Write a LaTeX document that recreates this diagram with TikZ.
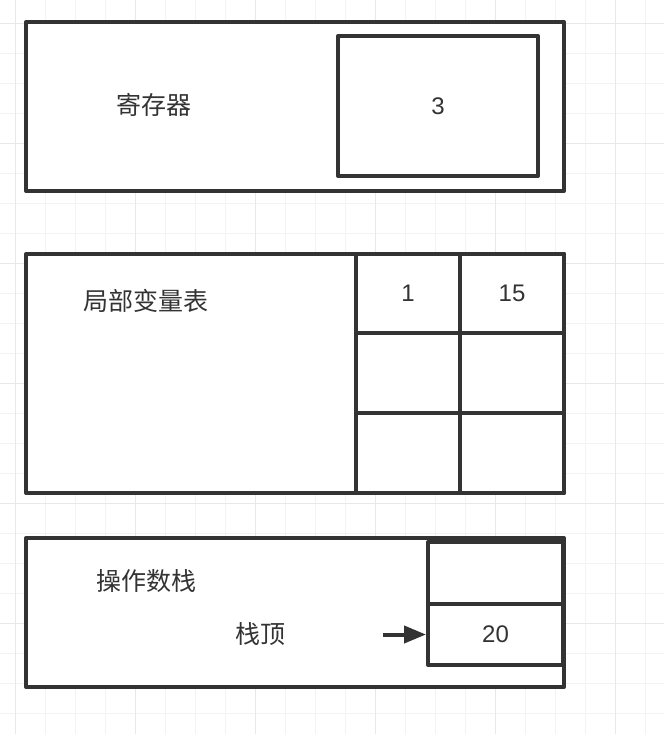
\documentclass[tikz,border=0pt]{standalone}
\usepackage{fontspec}
\setmainfont{Liberation Sans}
\newfontfamily\cjk{Noto Sans CJK SC}
\usetikzlibrary{arrows.meta}
\definecolor{ink}{HTML}{333333}
\definecolor{gridminor}{HTML}{F3F3F3}
\definecolor{gridmajor}{HTML}{E8E8E8}
\tikzset{
  box/.style={draw=ink, line width=4pt, fill=white, rectangle, inner sep=0pt, line join=round},
  lbl/.style={text=ink, font=\cjk\fontsize{25}{29}\selectfont, inner sep=0pt},
  num/.style={text=ink, font=\fontsize{24}{28}\selectfont},
  ptr/.style={draw=ink, line width=4pt, -{Triangle[length=22pt,width=17pt]}}
}
\begin{document}
\begin{tikzpicture}[x=1pt,y=-1pt]
\useasboundingbox (0,0) rectangle (664,734);
\fill[white] (0,0) rectangle (664,734);
% grid
\foreach \gx in {15,45,...,664} \draw[gridminor, line width=1pt] (\gx,0) -- (\gx,734);
\foreach \gy in {23,53,...,734} \draw[gridminor, line width=1pt] (0,\gy) -- (664,\gy);
\foreach \gx in {15,135,...,664} \draw[gridmajor, line width=1pt] (\gx,0) -- (\gx,734);
\foreach \gy in {23,143,...,734} \draw[gridmajor, line width=1pt] (0,\gy) -- (664,\gy);
% register
\node[box, minimum width=538pt, minimum height=169pt] (reg) at (295,106.5) {};
\node[box, minimum width=200pt, minimum height=140pt] (regv) at (438,106) {};
\node[num] at (regv) {3};
\node[lbl] (regl) at (154,105) {寄存器};
% local variable table
\node[box, minimum width=538pt, minimum height=239pt] (lvt) at (295,373.5) {};
\node[lbl] (lvtl) at (146,301) {局部变量表};
\node[box, minimum width=104pt, minimum height=79.5pt] (c11) at (408,293.5) {};
\node[box, minimum width=104pt, minimum height=79.5pt] (c12) at (512,293.5) {};
\node[box, minimum width=104pt, minimum height=80pt] (c21) at (408,373) {};
\node[box, minimum width=104pt, minimum height=80pt] (c22) at (512,373) {};
\node[box, minimum width=104pt, minimum height=80pt] (c31) at (408,453) {};
\node[box, minimum width=104pt, minimum height=80pt] (c32) at (512,453) {};
\node[num] at (c11) {1};
\node[num] at (c12) {15};
% operand stack
\node[box, minimum width=538pt, minimum height=149pt] (ops) at (295,612.5) {};
\node[lbl] (opsl) at (146,581) {操作数栈};
\node[box, minimum width=135pt, minimum height=62pt] (s1) at (495.5,573) {};
\node[box, minimum width=135pt, minimum height=61pt] (s2) at (495.5,634.5) {};
\node[num] at (s2) {20};
\node[lbl] (top) at (260,634) {栈顶};
\coordinate (ptrstart) at (383,634.5);
\draw[ptr] (ptrstart) -- (s2.west);
\end{tikzpicture}
\end{document}
